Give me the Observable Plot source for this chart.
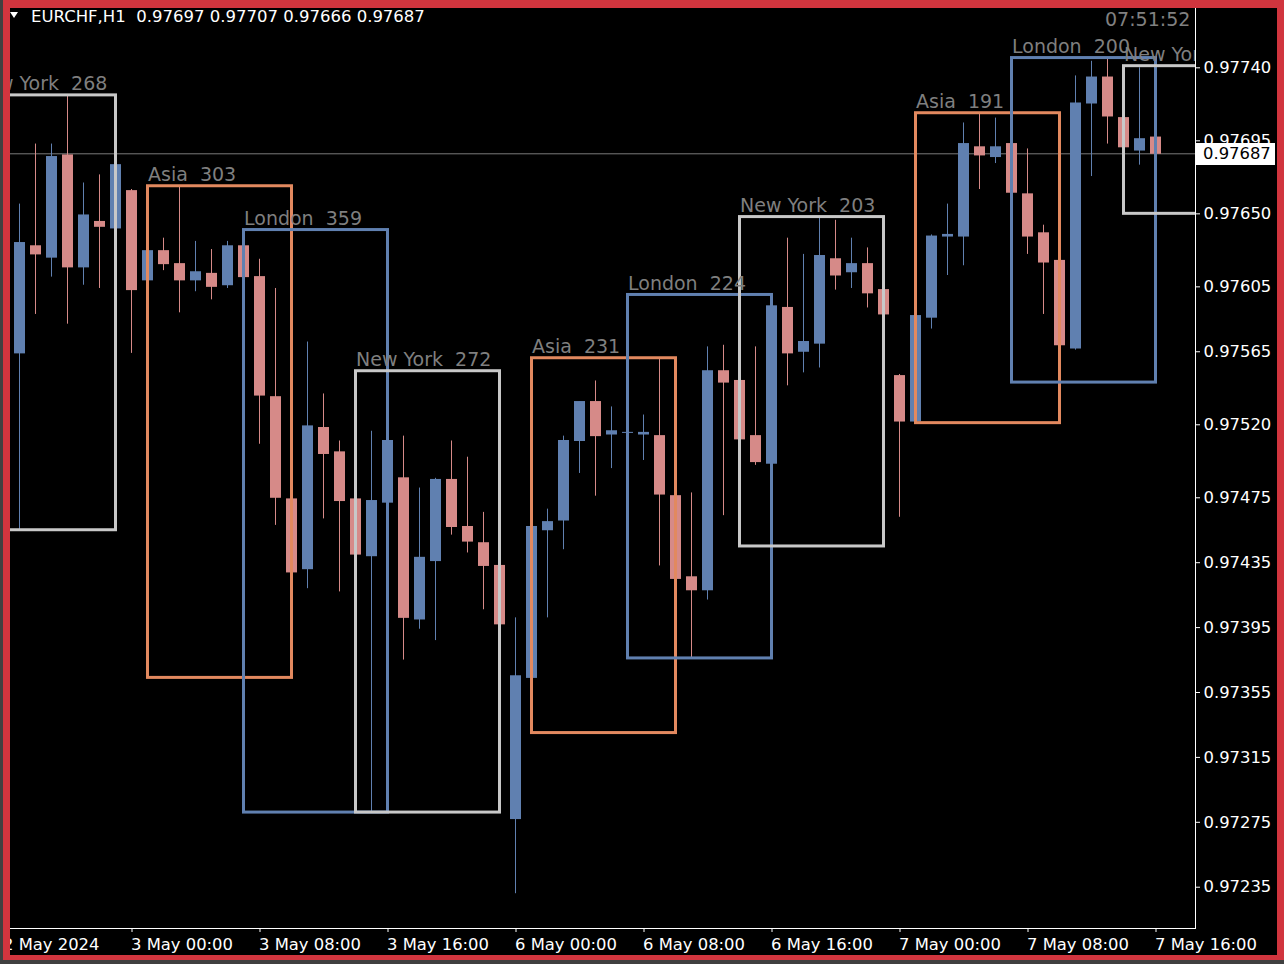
<!DOCTYPE html>
<html><head><meta charset="utf-8">
<script src="https://cdn.jsdelivr.net/npm/d3@7"></script>
<script src="https://cdn.jsdelivr.net/npm/@observablehq/plot@0.6"></script>
<style>
html,body{margin:0;padding:0;background:#404040;width:1284px;height:964px;overflow:hidden}
#wrap{position:relative;width:1284px;height:964px}
#bg{position:absolute;left:10px;top:8px;width:1267px;height:947px;background:#000}
#chart{position:absolute;left:0;top:0}
#border{position:absolute;left:3px;top:0;width:1281px;height:960px;box-sizing:border-box;border-style:solid;border-color:#d1353e;border-width:8px 7px 5px 7px;pointer-events:none}
svg text{white-space:pre}
#tri{position:absolute;left:10px;top:12px;width:0;height:0;border-left:4px solid transparent;border-right:4px solid transparent;border-top:6px solid #fff}
#title{position:absolute;left:31px;top:7px;color:#fff;font-family:"DejaVu Sans";font-size:16.5px;line-height:20px;white-space:pre}
#clock{position:absolute;left:1105px;top:8px;color:#808080;font-family:"DejaVu Sans";font-size:19px;line-height:22px}
#bid{position:absolute;left:1196px;width:72px;height:22px;padding-left:7px;background:#fff;color:#000;font-family:"DejaVu Sans";font-size:16.4px;line-height:22px}
</style>
</head><body>
<div id="wrap">
  <div id="bg"></div>
  <div id="chart"></div>
  <div id="tri"></div>
  <div id="title"></div>
  <div id="clock"></div>
  <div id="bid"></div>
  <div id="border"></div>
</div>
<script>
// ---- data (H1 candles, EURCHF) ----
const opens = [0.97564,0.97630,0.97623,0.97686,0.97617,0.97645,0.97641,0.97664,0.97609,0.97627,
0.97619,0.97609,0.97613,0.97606,0.97630,0.97611,0.97537,0.97474,0.97431,0.97518,
0.97503,0.97474,0.97439,0.97472,0.97487,0.97400,0.97436,0.97486,0.97457,0.97447,
0.97433,0.97277,0.97364,0.97455,0.97461,0.97510,0.97534,0.97514,0.97515,0.97514,
0.97513,0.97476,0.97426,0.97418,0.97553,0.97547,0.97513,0.97496,0.97592,0.97565,
0.97570,0.97622,0.97614,0.97619,0.97603,0.97550,0.97522,0.97586,0.97636,0.97636,
0.97691,0.97685,0.97693,0.97662,0.97638,0.97621,0.97567,0.97718,0.97734,0.97709,
0.97689,0.97697];
const highs = [0.97656,0.97693,0.97693,0.97723,0.97669,0.97674,0.97683,0.97665,0.97628,0.97635,
0.97667,0.97633,0.97628,0.97633,0.97640,0.97622,0.97604,0.97476,0.97571,0.97539,
0.97510,0.97553,0.97516,0.97513,0.97513,0.97481,0.97487,0.97510,0.97500,0.97466,
0.97434,0.97401,0.97458,0.97468,0.97513,0.97534,0.97547,0.97531,0.97520,0.97526,
0.97561,0.97477,0.97478,0.97568,0.97569,0.97549,0.97568,0.97600,0.97635,0.97625,
0.97648,0.97646,0.97635,0.97629,0.97604,0.97551,0.97588,0.97637,0.97656,0.97706,
0.97712,0.97709,0.97696,0.97690,0.97643,0.97622,0.97735,0.97744,0.97746,0.97741,
0.97740,0.97707];
const lows = [0.97455,0.97588,0.97611,0.97582,0.97606,0.97604,0.97637,0.97564,0.97607,0.97615,
0.97589,0.97602,0.97597,0.97604,0.97608,0.97508,0.97458,0.97364,0.97419,0.97462,
0.97417,0.97439,0.97281,0.97471,0.97375,0.97394,0.97387,0.97452,0.97441,0.97406,
0.97396,0.97231,0.97330,0.97401,0.97443,0.97490,0.97476,0.97493,0.97511,0.97498,
0.97433,0.97420,0.97376,0.97412,0.97464,0.97445,0.97495,0.97495,0.97544,0.97552,
0.97555,0.97603,0.97604,0.97592,0.97586,0.97463,0.97521,0.97579,0.97612,0.97618,
0.97665,0.97681,0.97659,0.97625,0.97588,0.97546,0.97566,0.97673,0.97693,0.97650,
0.97680,0.97666];
const closes = [0.97632,0.97625,0.97685,0.97617,0.97649,0.97642,0.97680,0.97603,0.97627,0.97619,
0.97609,0.97614,0.97605,0.97630,0.97611,0.97538,0.97475,0.97429,0.97519,0.97502,
0.97473,0.97440,0.97473,0.97510,0.97401,0.97438,0.97486,0.97457,0.97448,0.97433,
0.97397,0.97365,0.97457,0.97460,0.97510,0.97534,0.97513,0.97516,0.97515,0.97515,
0.97477,0.97425,0.97418,0.97553,0.97546,0.97511,0.97497,0.97593,0.97564,0.97571,
0.97624,0.97612,0.97619,0.97601,0.97588,0.97522,0.97587,0.97636,0.97637,0.97693,
0.97686,0.97691,0.97663,0.97636,0.97620,0.97569,0.97718,0.97734,0.97710,0.97691,
0.97696,0.97687];

// x-axis labels (bar index of each label)
const xTickIndex = [7,15,23,31,39,47,55,63,71];
const xTickLabels = ["3 May 00:00","3 May 08:00","3 May 16:00","6 May 00:00","6 May 08:00","6 May 16:00","7 May 00:00","7 May 08:00","7 May 16:00"];
const dateLabelIndex = -1;
const dateLabel = "2 May 2024";

// y-axis ticks
const yTicks = [0.97740,0.97695,0.97650,0.97605,0.97565,0.97520,0.97475,0.97435,0.97395,0.97355,0.97315,0.97275,0.97235];

// sessions (first/last bar index)
const sessionNames = ["New York","Asia","London","New York","Asia","London","New York","Asia","London","New York"];
const sessionStart = [-3,8,14,21,32,38,45,56,62,69];
const sessionEnd   = [6,17,23,30,41,47,54,65,71,78];

const bidPrice = 0.97687;
const titleText = "EURCHF,H1  0.97697 0.97707 0.97666 0.97687";
const clockText = "07:51:52";

// ---- build ----
const BULL = "#6080b0", BEAR = "#d68a88";
const sessionColor = {"Asia":"#e2895f","London":"#6080b0","New York":"#c8c8c8"};

const candles = opens.map((o,i)=>({i, open:o, high:highs[i], low:lows[i], close:closes[i]}));
const candleColor = d => d.close >= d.open ? BULL : BEAR;

const sessions = sessionNames.map((name,k)=>{
  const inRange = candles.filter(c => c.i >= sessionStart[k] && c.i <= sessionEnd[k]);
  const hi = d3.max(inRange, c=>c.high), lo = d3.min(inRange, c=>c.low);
  return {name, start:sessionStart[k], end:sessionEnd[k], high:hi, low:lo,
          label: name + "  " + Math.round((hi-lo)*1e5)};
});

const xLabels = [{i:dateLabelIndex, text:dateLabel}].concat(xTickIndex.map((t,k)=>({i:t, text:xTickLabels[k]})));

const halfBody = 5.5/16, halfWick = 0.5/16;

const chart = Plot.plot({
  width: 1284, height: 964,
  marginLeft: 10, marginRight: 89, marginTop: 8, marginBottom: 36,
  style: {background:"transparent", color:"#fff", fontFamily:"DejaVu Sans", fontSize:"16.4px"},
  color: {type:"identity"},
  x: {domain:[-0.59375, 73.46875], ticks: xTickIndex, tickSize: 4, tickFormat: () => "", line: true, label: null},
  y: {domain:[0.97209555, 0.97776546], axis:"right", ticks: yTicks, tickSize: 4, tickPadding: 4,
      tickFormat: d3.format(".5f"), line: true, label: null},
  marks: [
    Plot.ruleY([bidPrice], {stroke:"#7a7a7a", strokeWidth:1}),
    Plot.rect(candles, {x1: d=>d.i-halfWick, x2: d=>d.i+halfWick, y1:"low", y2:"high", fill: candleColor, clip: true}),
    Plot.rect(candles, {x1: d=>d.i-halfBody, x2: d=>d.i+halfBody, y1:"open", y2:"close", fill: candleColor,
                        insetTop:-0.5, insetBottom:-0.5, clip: true}),
    Plot.rect(sessions, {x1:"start", x2:"end", y1:"low", y2:"high", stroke: d=>sessionColor[d.name],
                         strokeWidth:3, fill:"none", clip:true}),
    Plot.text(sessions, {x:"start", y:"high", text:"label", textAnchor:"start", lineAnchor:"bottom",
                         dy:-5, fill:"#7f7f7f", fontSize:19, clip:true}),
    Plot.text(xLabels, {x:"i", text:"text", frameAnchor:"bottom", textAnchor:"start", dx:-1, dy:21, fill:"#fff"})
  ]
});
document.getElementById("chart").appendChild(chart);

document.getElementById("title").textContent = titleText;
document.getElementById("clock").textContent = clockText;
const bidEl = document.getElementById("bid");
bidEl.textContent = d3.format(".5f")(bidPrice);
const by = chart.scale("y").apply(bidPrice);
bidEl.style.top = (Math.round(by) - 10) + "px";
</script>
</body></html>
